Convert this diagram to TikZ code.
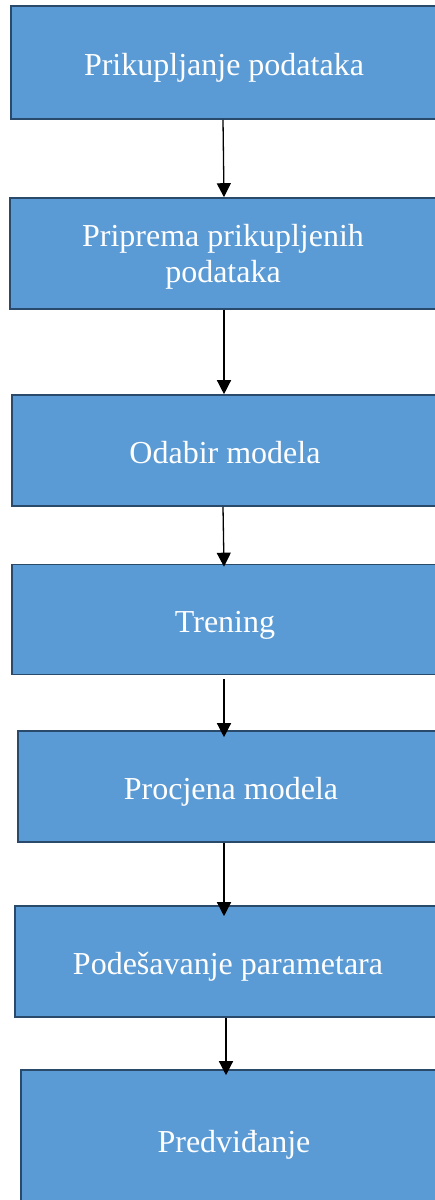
\documentclass[tikz,border=0pt]{standalone}
\usepackage{fontspec}
\setmainfont{Liberation Serif}
\usetikzlibrary{arrows.meta}
\definecolor{boxfill}{HTML}{5B9BD5}
\definecolor{boxline}{HTML}{2A4A6B}
\tikzset{
	node_step/.style = {
		rectangle,
		align=center,
		inner sep=0pt,
		draw=boxline,
		fill=boxfill,
		line width=1.6pt,
		text=white,
		font=\fontsize{32}{36}\selectfont,
		text height=29pt,
		text depth=4pt,
		minimum width=426pt,
		minimum height=111pt
	},
	node_last/.style = {
		node_step,
		minimum height=140pt
	},
	edge_step/.style = {
		line width=1.3pt,
		-{Triangle[width=14pt,length=14pt]}
	},
}
\begin{document}
\begin{tikzpicture}[x=1pt,y=-1pt]
\clip (0,0) rectangle (435,1200);
\fill[white] (0,0) rectangle (435,1200);
\node [node_step, minimum height=113pt] (collect) at (224,62.5) {Prikupljanje podataka};
\node [node_step, text height=62pt] (prepare) at (223,253.5) {Priprema prikupljenih\\podataka};
\node [node_step] (choose) at (225,450.5) {Odabir modela};
\node [node_step, minimum height=110pt] (train) at (225,619.5) {Trening};
\node [node_step] (evaluate) at (231,786.5) {Procjena modela};
\node [node_step] (tune) at (228,961.5) {Podešavanje parametara};
\node [node_last] (predict) at (234,1140) {Predviđanje};

\draw [edge_step] ([xshift=-1pt]collect.south) -- (collect.south |- prepare.north);
\draw [edge_step] ([xshift=1pt]prepare.south) -- ([xshift=1pt]prepare.south |- choose.north);
\draw [edge_step] ([xshift=-2pt]choose.south) -- ([xshift=-1pt,yshift=-3pt]choose.south |- train.north);
\draw [edge_step] ([xshift=-1pt,yshift=-4pt]train.south) -- ([xshift=-1pt,yshift=-7pt]train.south |- evaluate.north);
\draw [edge_step] ([xshift=-7pt]evaluate.south) -- ([xshift=-7pt,yshift=-11pt]evaluate.south |- tune.north);
\draw [edge_step] ([xshift=-2pt]tune.south) -- ([xshift=-2pt,yshift=-6pt]tune.south |- predict.north);
\end{tikzpicture}
\end{document}
